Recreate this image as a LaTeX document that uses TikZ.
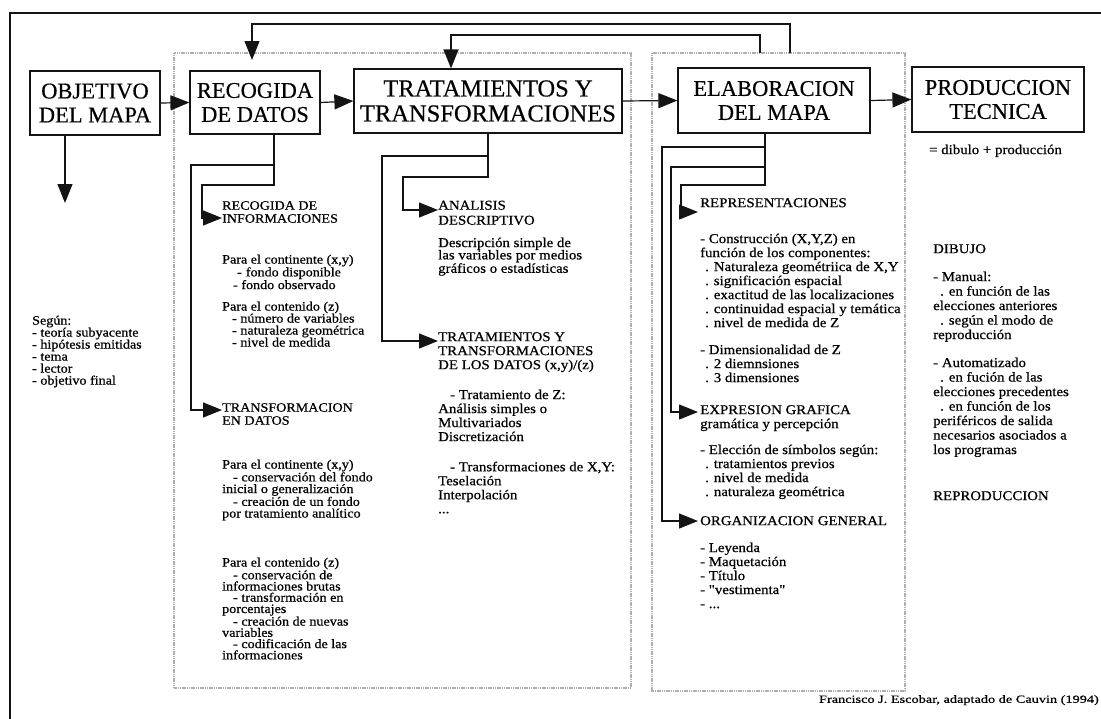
\documentclass[tikz,border=0pt]{standalone}
\usepackage{fontspec}
\setmainfont{Liberation Serif}
\newfontfamily\boxFont{Liberation Serif}[FakeBold=0.4]
\newfontfamily\bodyFont{Liberation Serif}[FakeStretch=1.1, FakeBold=0.7]
\newfontfamily\footFont{Liberation Serif}[FakeStretch=1.3, FakeBold=0.6]
\usepackage{tikz}
\usetikzlibrary{arrows.meta}
\definecolor{panelColor}{RGB}{175,175,175}
\definecolor{lineColor}{RGB}{20,20,20}
\tikzstyle{chart} = [x = 1pt, y = -1pt]
\tikzstyle{boxStyle} = [draw=lineColor, line width=1.2pt, align=center, inner sep=0pt, font={\boxFont\fontsize{22.5}{24}\selectfont}]
\tikzstyle{arrowLine} = [draw=lineColor, line width=1.2pt, -{Triangle[length=19pt, width=15pt]}]
\tikzstyle{panelStyle} = [draw=panelColor, line width=2pt, dash pattern=on 1.2pt off 0.6pt]
\tikzstyle{blockText} = [anchor=north west, inner sep=0pt, align=left]
\newcommand{\sizeA}[1]{\bodyFont\fontsize{12.8}{#1}\selectfont}
\newcommand{\sizeB}[1]{\bodyFont\fontsize{13.5}{#1}\selectfont}

\begin{document}
\begin{tikzpicture}[chart]
  \useasboundingbox (0,0) rectangle (1101,718);
  % grey panels and frame
  \draw [panelStyle] (174,53) rectangle (631,688);
  \draw [panelStyle] (652,53) rectangle (905,691);
  \draw [lineColor, line width=1.4pt] (10,740) -- (10,13) -- (1120,13);

  % main boxes
  \node [boxStyle, minimum width=130pt, minimum height=64pt] (objetivo) at (95,103) {OBJETIVO\\DEL MAPA};
  \node [boxStyle, minimum width=130pt, minimum height=63pt] (recogida) at (255,102.5) {RECOGIDA\\DE DATOS};
  \node [boxStyle, minimum width=268pt, minimum height=64pt, font={\boxFont\fontsize{24.5}{25}\selectfont}] (tratamientos) at (488,101) {TRATAMIENTOS Y\\TRANSFORMACIONES};
  \node [boxStyle, minimum width=192pt, minimum height=65pt] (elaboracion) at (774,100.5) {ELABORACION\\DEL MAPA};
  \node [boxStyle, minimum width=172pt, minimum height=65pt] (produccion) at (998,99.5) {PRODUCCION\\TECNICA};

  \draw [arrowLine] (objetivo.east) -- (recogida.west);
  \draw [arrowLine] (recogida.east) -- (tratamientos.west);
  \draw [arrowLine] (tratamientos.east) -- (elaboracion.west);
  \draw [arrowLine] (elaboracion.east) -- (produccion.west);

  % feedback lines
  \coordinate (outerTop) at (790,53);
  \coordinate (outerEnd) at (252,60);
  \coordinate (innerTop) at (760,53);
  \draw [arrowLine] (outerTop) |- (outerEnd |- 0,24) -- (outerEnd);
  \draw [arrowLine] (innerTop) |- (451,35) -- (tratamientos.north -| 451,0);

  % objetivo
  \coordinate (objetivoEnd) at (65,203);
  \draw [arrowLine] (objetivo.south -| objetivoEnd) -- (objetivoEnd);
  \node [blockText, font={\sizeA{12}}] (segun) at (32,315.5) {Según:\\- teoría subyacente\\- hipótesis emitidas\\- tema\\- lector\\- objetivo final};

  % recogida de datos
  \coordinate (recStem) at (recogida.south -| 274,0);
  \coordinate (toInfo) at (222,218);
  \coordinate (toTransf) at (222,410);
  \draw [arrowLine] (recStem) |- (202,185) |- (toInfo);
  \draw [arrowLine] (recStem) |- (191,165) |- (toTransf);
  \node [blockText, font={\sizeA{13}}] (recInfo) at (222,201) {RECOGIDA DE\\INFORMACIONES};
  \node [blockText, font={\sizeA{11.7}}] (contBody) at (222,254.5) {Para el continente (x,y)\\\hspace*{15pt}-\hspace*{4pt}fondo disponible\\\hspace*{11pt}- fondo observado};
  \node [blockText, font={\sizeA{12}}] (contenBody) at (222,301.5) {Para el contenido (z)\\\hspace*{10pt}- número de variables\\\hspace*{10pt}- naturaleza geométrica\\\hspace*{10pt}- nivel de medida};
  \node [blockText, font={\sizeA{13}}] (transfDatos) at (222,403) {TRANSFORMACION\\EN DATOS};
  \node [blockText, font={\sizeA{11.7}}] (contBodyB) at (222,459.5) {Para el continente (x,y)\\\hspace*{11pt}- conservación del fondo\\inicial o generalización\\\hspace*{11pt}- creación de un fondo\\por tratamiento analítico};
  \node [blockText, font={\sizeA{11.25}}] (contenBodyB) at (222,557.5) {Para el contenido (z)\\\hspace*{11pt}- conservación de\\informaciones brutas\\\hspace*{11pt}- transformación en\\porcentajes\\\hspace*{11pt}- creación de nuevas\\variables\\\hspace*{11pt}- codificación de las\\informaciones};

  % tratamientos
  \coordinate (tratStem) at (tratamientos.south);
  \coordinate (toAnal) at (438,210);
  \coordinate (toTratDatos) at (438,341);
  \draw [arrowLine] (tratStem) |- (403,177) |- (toAnal);
  \draw [arrowLine] (tratStem) |- (382,156) |- (toTratDatos);
  \node [blockText, font={\sizeB{15}}] (analisis) at (438,200.5) {ANALISIS\\DESCRIPTIVO};
  \node [blockText, font={\sizeB{12.3}}] (descBody) at (438,237.5) {Descripción simple de\\las variables por medios\\gráficos o estadísticas};
  \node [blockText, font={\sizeB{14}}] (tratDatos) at (438,332) {TRATAMIENTOS Y\\TRANSFORMACIONES\\DE LOS DATOS (x,y)/(z)};
  \node [blockText, font={\sizeB{14}}] (tratBody) at (438,389.5) {\hspace*{12pt}- Tratamiento de Z:\\Análisis simples o\\Multivariados\\Discretización};
  \node [blockText, font={\sizeB{14}}] (transfBody) at (438,461.5) {\hspace*{12pt}- Transformaciones de X,Y:\\Teselación\\Interpolación\\...};

  % elaboracion del mapa
  \coordinate (elabStem) at (elaboracion.south -| 765,0);
  \coordinate (toRepr) at (698,212);
  \coordinate (toExpr) at (698,412);
  \coordinate (toOrg) at (698,521);
  \draw [arrowLine] (elabStem) |- (681,185) |- (toRepr);
  \draw [arrowLine] (elabStem) |- (671,167) |- (toExpr);
  \draw [arrowLine] (elabStem) |- (662,147) |- (toOrg);
  \node [blockText, font={\sizeB{14}}] (repr) at (700,198) {REPRESENTACIONES};
  \node [blockText, font={\sizeB{14}}] (reprBody) at (700,233.5) {- Construcción (X,Y,Z) en\\función de los componentes:\\\hspace*{5pt}. Naturaleza geométriica de X,Y\\\hspace*{5pt}. significación espacial\\\hspace*{5pt}. exactitud de las localizaciones\\\hspace*{5pt}. continuidad espacial y temática\\\hspace*{5pt}. nivel de medida de Z};
  \node [blockText, font={\sizeB{14}}] (dimBody) at (700,344.5) {- Dimensionalidad de Z\\\hspace*{5pt}. 2 diemnsiones\\\hspace*{5pt}. 3 dimensiones};
  \node [blockText, font={\sizeB{14}}] (expr) at (700,405) {EXPRESION GRAFICA\\gramática y percepción};
  \node [blockText, font={\sizeB{14}}] (elecBody) at (700,444.5) {- Elección de símbolos según:\\\hspace*{5pt}. tratamientos previos\\\hspace*{5pt}. nivel de medida\\\hspace*{5pt}. naturaleza geométrica};
  \node [blockText, font={\sizeB{14}}] (org) at (700,516) {ORGANIZACION GENERAL};
  \node [blockText, font={\sizeB{14}}] (orgBody) at (700,542.5) {- Leyenda\\- Maquetación\\- Título\\- "vestimenta"\\- ...};

  % produccion tecnica
  \node [blockText, font={\sizeB{14}}] (prodNote) at (929,144.5) {= dibulo + producción};
  \node [blockText, font={\sizeB{14}}] (dibujo) at (933,244) {DIBUJO};
  \node [blockText, font={\sizeB{14.5}}] (manualBody) at (933,271.5) {- Manual:\\\hspace*{7pt}. en función de las\\elecciones anteriores\\\hspace*{7pt}. según el modo de\\reproducción};
  \node [blockText, font={\sizeB{14.5}}] (autoBody) at (933,357.5) {- Automatizado\\\hspace*{7pt}. en fución de las\\elecciones precedentes\\\hspace*{7pt}. en función de los\\periféricos de salida\\necesarios asociados a\\los programas};
  \node [blockText, font={\sizeB{14}}] (reprod) at (933,491) {REPRODUCCION};

  \node [anchor=north east, inner sep=0pt, font={\footFont\fontsize{11}{13}\selectfont}] (credit) at (1099,695) {Francisco J. Escobar, adaptado de Cauvin (1994)};
\end{tikzpicture}
\end{document}
